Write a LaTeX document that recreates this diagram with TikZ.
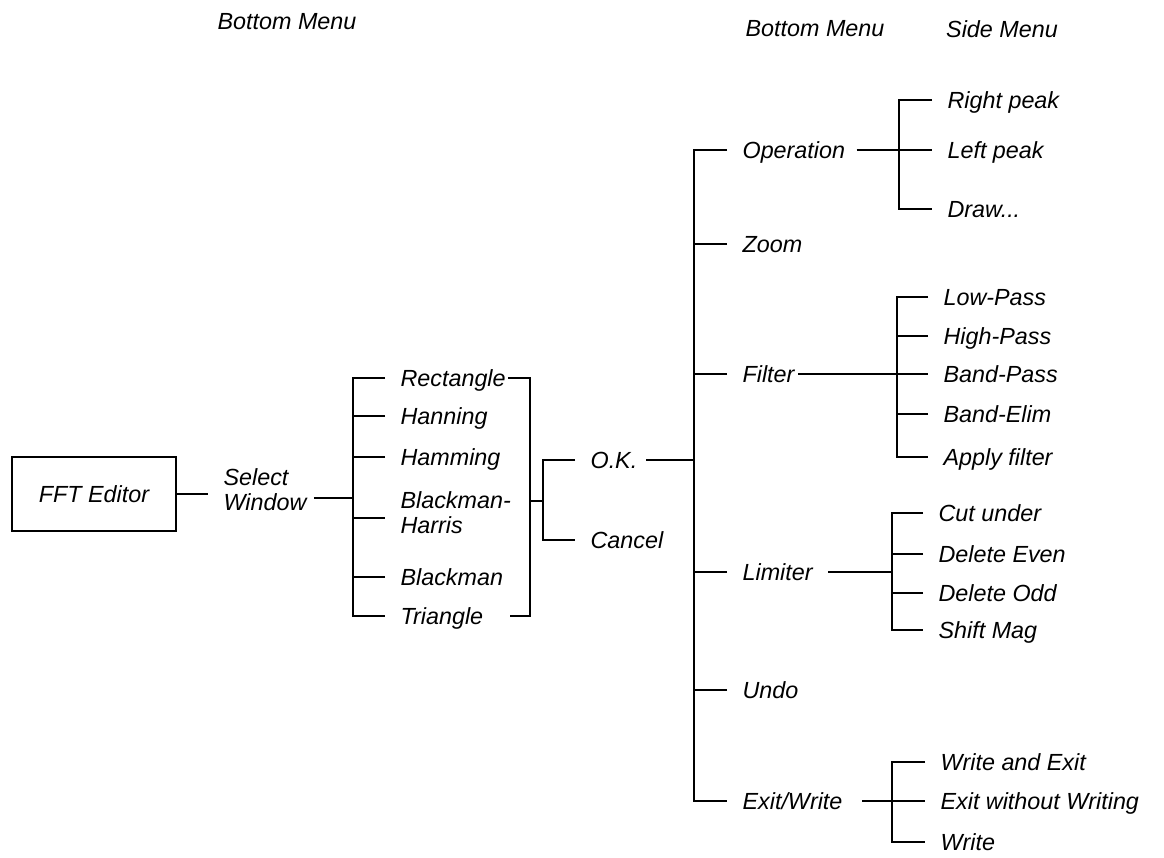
\documentclass[tikz,border=0pt]{standalone}
\usepackage{fontspec}
\setmainfont{Liberation Sans}
\begin{document}
\begin{tikzpicture}[x=0.75pt,y=-0.75pt,line width=0.9pt,
  lab/.style={anchor=west,inner xsep=11.25pt,inner ysep=0pt,text height=12.5pt,text depth=0pt,font=\itshape\fontsize{17.5}{18.75}\selectfont},
  two/.style={anchor=west,inner xsep=11.25pt,inner ysep=0pt,align=left,font=\itshape\fontsize{17.5}{18.75}\selectfont},
  hdr/.style={inner sep=0pt,text height=12.5pt,text depth=0pt,font=\itshape\fontsize{17.5}{18.75}\selectfont},
  box/.style={draw,minimum width=123pt,minimum height=55.5pt,inner sep=0pt,font=\itshape\fontsize{17.5}{18.75}\selectfont}]
\useasboundingbox (0,0) rectangle (1164,857);
% headers
\node[hdr] (h1) at (287,21) {Bottom Menu};
\node[hdr] (h2) at (815,28) {Bottom Menu};
\node[hdr] (h3) at (1002,29) {Side Menu};
% root
\node[box] (fft) at (94,494) {FFT Editor};
\node[two] (sw) at (208,490) {Select\\Window};
% level 1
\node[lab] (rect) at (385,378) {Rectangle};
\node[lab] (hann) at (385,416) {Hanning};
\node[lab] (hamm) at (385,457) {Hamming};
\node[two] (bh) at (385,513) {Blackman-\\Harris};
\node[lab] (bman) at (385,577) {Blackman};
\node[lab] (tri) at (385,616) {Triangle};
\coordinate (s1t) at (353,378);
\coordinate (s1b) at (353,616);
\coordinate (j1) at (353,498);
\coordinate (bhj) at (353,518);
\draw (fft.east) -- (sw.west |- fft.east);
\draw ([xshift=-6pt]sw.east |- j1) -- (j1);
\draw (rect.west) -- (s1t) -- (s1b) -- (tri.west);
\draw (hann.west) -- (hann.west -| s1t);
\draw (hamm.west) -- (hamm.west -| s1t);
\draw (bhj) -- (bhj -| bh.west);
\draw (bman.west) -- (bman.west -| s1t);
% right bracket
\coordinate (r1t) at (530,378);
\coordinate (r1b) at (530,616);
\coordinate (r1m) at (530,501);
\coordinate (s3m) at (543,501);
\coordinate (s3t) at (543,460);
\coordinate (s3b) at (543,540);
\draw ([xshift=-9.75pt]rect.east) -- (r1t) -- (r1b) -- ([xshift=8.25pt]tri.east);
\draw (r1m) -- (s3m);
\node[lab] (ok) at (575,460) {O.K.};
\node[lab] (cancel) at (575,540) {Cancel};
\draw (ok.west) -- (s3t) -- (s3b) -- (cancel.west);
% main spine
\coordinate (m0) at (694,460);
\coordinate (mt) at (694,150);
\coordinate (mb) at (694,801);
\draw ([xshift=-5pt]ok.east) -- (m0);
\node[lab] (op) at (727,150) {Operation};
\node[lab] (zoom) at (727,244) {Zoom};
\node[lab] (filt) at (727,374) {Filter};
\node[lab] (lim) at (727,572) {Limiter};
\node[lab] (undo) at (727,690) {Undo};
\node[lab] (exw) at (727,801) {Exit/Write};
\draw (op.west) -- (mt) -- (mb) -- (exw.west);
\draw (zoom.west) -- (zoom.west -| mt);
\draw (filt.west) -- (filt.west -| mt);
\draw (lim.west) -- (lim.west -| mt);
\draw (undo.west) -- (undo.west -| mt);
% operation side menu
\coordinate (ot) at (899,100);
\coordinate (ob) at (899,209);
\node[lab] (rp) at (932,100) {Right peak};
\node[lab] (lp) at (932,150) {Left peak};
\node[lab] (dr) at (932,209) {Draw...};
\draw (rp.west) -- (ot) -- (ob) -- (dr.west);
\draw ([xshift=-3pt]op.east) -- (lp.west);
% filter side menu
\coordinate (ft) at (897,297);
\coordinate (fb) at (897,457);
\node[lab] (lowp) at (928,297) {Low-Pass};
\node[lab] (highp) at (928,336) {High-Pass};
\node[lab] (bandp) at (928,374) {Band-Pass};
\node[lab] (bande) at (928,414) {Band-Elim};
\node[lab] (apply) at (928,457) {Apply filter};
\draw (lowp.west) -- (ft) -- (fb) -- (apply.west);
\draw (highp.west) -- (highp.west -| ft);
\draw (bande.west) -- (bande.west -| ft);
\draw ([xshift=-9pt]filt.east) -- (bandp.west);
% limiter side menu
\coordinate (lt) at (892,513);
\coordinate (lb) at (892,630);
\coordinate (lj) at (892,572);
\node[lab] (cut) at (923,513) {Cut under};
\node[lab] (deven) at (923,554) {Delete Even};
\node[lab] (dodd) at (923,593) {Delete Odd};
\node[lab] (shift) at (923,630) {Shift Mag};
\draw (cut.west) -- (lt) -- (lb) -- (shift.west);
\draw (deven.west) -- (deven.west -| lt);
\draw (dodd.west) -- (dodd.west -| lt);
\draw (lim.east) -- (lj);
% exit side menu
\coordinate (et) at (892,762);
\coordinate (eb) at (892,842);
\node[lab] (wae) at (925,762) {Write and Exit};
\node[lab] (ewo) at (925,801) {Exit without Writing};
\node[lab] (wr) at (925,842) {Write};
\draw (wae.west) -- (et) -- (eb) -- (wr.west);
\draw ([xshift=3pt]exw.east) -- (ewo.west);
\end{tikzpicture}
\end{document}
